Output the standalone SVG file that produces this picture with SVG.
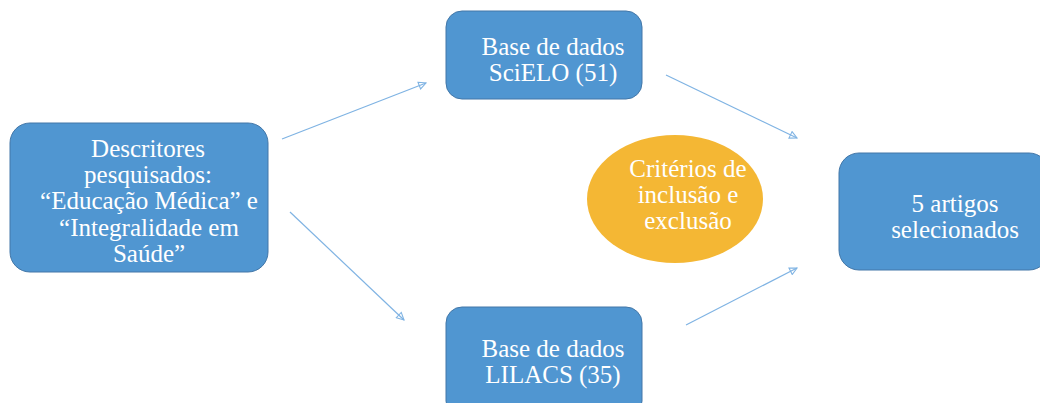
<svg xmlns="http://www.w3.org/2000/svg" width="1040" height="403" viewBox="0 0 1040 403">
<defs>
<style>
.box{fill:#5096d1;stroke:#4377a8;stroke-width:1}
.oval{fill:#f4b734}
.t{font-family:"Liberation Serif","Times New Roman",serif;font-size:25px;fill:#ffffff;text-anchor:middle}
.c{fill:none;stroke:#7fb3e3;stroke-width:1.2}
</style>
<marker id="ah" viewBox="0 0 10 10" refX="9" refY="5" markerWidth="9" markerHeight="9" orient="auto" markerUnits="userSpaceOnUse">
<path d="M1,1 L9,5 L1,9 Z" fill="none" stroke="#7fb3e3" stroke-width="1.2"/>
</marker>
</defs>
<rect width="1040" height="403" fill="#ffffff"/>
<g id="connectors">
<line class="c" x1="282" y1="139" x2="426" y2="83" marker-end="url(#ah)"/>
<line class="c" x1="290" y1="212" x2="404" y2="320" marker-end="url(#ah)"/>
<line class="c" x1="666" y1="75" x2="797" y2="138" marker-end="url(#ah)"/>
<line class="c" x1="686" y1="325" x2="797" y2="268" marker-end="url(#ah)"/>
</g>
<g id="descritores">
<rect class="box" x="10" y="123" width="258" height="149" rx="20"/>
<text class="t" x="148" y="157">Descritores</text>
<text class="t" x="148" y="183">pesquisados:</text>
<text class="t" x="149" y="209">“Educação Médica” e</text>
<text class="t" x="149" y="236">“Integralidade em</text>
<text class="t" x="149" y="262">Saúde”</text>
</g>
<g id="scielo">
<rect class="box" x="446" y="11" width="196" height="88" rx="16"/>
<text class="t" x="553" y="55">Base de dados</text>
<text class="t" x="553" y="81">SciELO (51)</text>
</g>
<g id="lilacs">
<rect class="box" x="446" y="307" width="196" height="110" rx="16"/>
<text class="t" x="553" y="357">Base de dados</text>
<text class="t" x="553" y="383">LILACS (35)</text>
</g>
<g id="criterios">
<ellipse class="oval" cx="675" cy="199" rx="88" ry="64"/>
<text class="t" x="688" y="177">Critérios de</text>
<text class="t" x="688" y="203">inclusão e</text>
<text class="t" x="688" y="229">exclusão</text>
</g>
<g id="artigos">
<rect class="box" x="839" y="153" width="210" height="117" rx="20"/>
<text class="t" x="955" y="212">5 artigos</text>
<text class="t" x="955" y="238">selecionados</text>
</g>
</svg>
